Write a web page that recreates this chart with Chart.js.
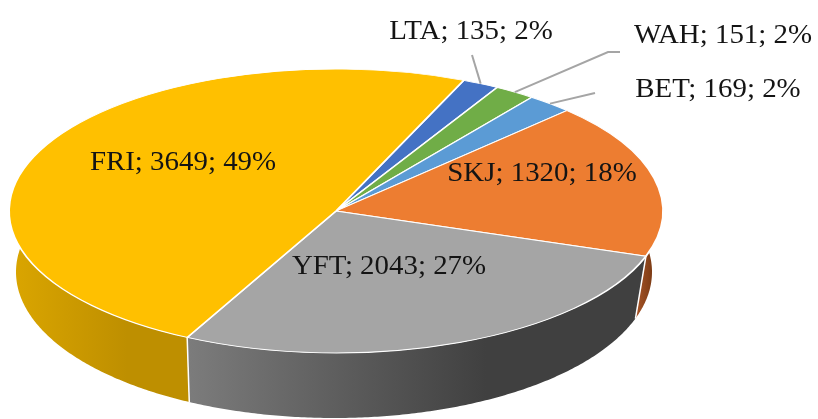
<!DOCTYPE html>
<html>
<head>
<meta charset="utf-8">
<script src="https://cdn.jsdelivr.net/npm/chart.js@4.4.0/dist/chart.umd.min.js"></script>
<style>
  html, body { margin: 0; padding: 0; background: #fff; }
  #wrap { width: 818px; height: 419px; position: relative; }
</style>
</head>
<body>
<div id="wrap"><canvas id="catchChart"></canvas></div>
<script>
// catch by species
const species = ['LTA', 'WAH', 'BET', 'SKJ', 'YFT', 'FRI'];
const catches = [135, 151, 169, 1320, 2043, 3649];

const topColors = ['#4472C4', '#70AD47', '#5B9BD5', '#ED7D31', '#A5A5A5', '#FFC000'];
// side wall shading: [left, right]
const wallColors = [
    ['#34589A', '#2A4780'],
    ['#56863A', '#45702D'],
    ['#4678A6', '#3A6690'],
    ['#B0592A', '#7A3A14'],
    ['#7C7C7C', '#404040'],
    ['#DBA600', '#BE8F00']
];

// ellipse of the top face and of the base (tilted view)
const TOP = { cx: 336, cy: 211, rx: 327, ry: 142 };
const BASE = { cx: 334, cy: 272, rx: 318, ry: 146 };

// label centres and leader lines (outside labels only)
const labelPos = [
    { x: 471, y: 30 }, { x: 723, y: 34 }, { x: 718, y: 88 },
    { x: 542, y: 172 }, { x: 389, y: 265 }, { x: 183, y: 161 }
];
const leaders = [
    [[472, 55]],
    [[620, 52], [608, 52]],
    [[595, 93]],
    null, null, null
];

const deg = Math.PI / 180;
const topPt = a => ({ x: TOP.cx + TOP.rx * Math.cos(a), y: TOP.cy + TOP.ry * Math.sin(a) });
const basePt = a => ({ x: BASE.cx + BASE.rx * Math.cos(a), y: BASE.cy + BASE.ry * Math.sin(a) });

function drawWall(ctx, a1, a2, colors) {
    const steps = Math.max(2, Math.ceil((a2 - a1) / 0.01));
    const pts = [];
    ctx.beginPath();
    for (let k = 0; k <= steps; k++) {
        const p = topPt(a1 + (a2 - a1) * k / steps);
        pts.push(p.x);
        k ? ctx.lineTo(p.x, p.y) : ctx.moveTo(p.x, p.y);
    }
    for (let k = steps; k >= 0; k--) {
        const p = basePt(a1 + (a2 - a1) * k / steps);
        pts.push(p.x);
        ctx.lineTo(p.x, p.y);
    }
    ctx.closePath();
    const x0 = Math.min(...pts), x1 = Math.max(...pts);
    const g = ctx.createLinearGradient(x0, 0, x1 + 1, 0);
    g.addColorStop(0, colors[0]);
    g.addColorStop(0.65, colors[1]);
    g.addColorStop(1, colors[1]);
    ctx.fillStyle = g;
    ctx.fill();
}

const pie3d = {
    id: 'pie3d',
    beforeDatasetsDraw(chart) {
        const ctx = chart.ctx;
        const arcs = chart.getDatasetMeta(0).data;
        const lo = -20 * deg, hi = 200 * deg;

        ctx.save();
        arcs.forEach((arc, i) => {
            for (let k = -1; k <= 1; k++) {
                const s = Math.max(arc.startAngle, lo + 2 * Math.PI * k);
                const e = Math.min(arc.endAngle, hi + 2 * Math.PI * k);
                if (e > s) drawWall(ctx, s, e, wallColors[i]);
            }
        });
        // white edges between slices on the wall
        ctx.strokeStyle = '#fff';
        ctx.lineWidth = 1.5;
        arcs.forEach(arc => {
            let a = arc.startAngle % (2 * Math.PI);
            if (a < 0) a += 2 * Math.PI;
            if (a > 0 && a < Math.PI) {
                const p = topPt(a), q = basePt(a);
                ctx.beginPath();
                ctx.moveTo(p.x, p.y);
                ctx.lineTo(q.x, q.y);
                ctx.stroke();
            }
        });
        ctx.restore();

        // squash the library's circular pie onto the top ellipse
        const a0 = arcs[0];
        const R = a0.outerRadius;
        ctx.save();
        ctx.translate(TOP.cx, TOP.cy);
        ctx.scale(TOP.rx / R, TOP.ry / R);
        ctx.translate(-a0.x, -a0.y);
    },
    afterDatasetsDraw(chart) {
        const ctx = chart.ctx;
        ctx.restore();

        const arcs = chart.getDatasetMeta(0).data;
        const total = catches.reduce((a, b) => a + b, 0);

        ctx.save();
        ctx.strokeStyle = '#A5A5A5';
        ctx.lineWidth = 2;
        arcs.forEach((arc, i) => {
            if (!leaders[i]) return;
            const p = topPt((arc.startAngle + arc.endAngle) / 2);
            ctx.beginPath();
            leaders[i].forEach((b, k) => k ? ctx.lineTo(b[0], b[1]) : ctx.moveTo(b[0], b[1]));
            ctx.lineTo(p.x, p.y);
            ctx.stroke();
        });

        ctx.fillStyle = '#141414';
        ctx.font = '27px "Liberation Serif", "Times New Roman", serif';
        ctx.textAlign = 'center';
        ctx.textBaseline = 'alphabetic';
        species.forEach((name, i) => {
            const pct = Math.round(catches[i] / total * 100);
            const text = `${name}; ${catches[i]}; ${pct}%`;
            ctx.save();
            ctx.translate(labelPos[i].x, labelPos[i].y + 9);
            ctx.scale(1.07, 1);
            ctx.fillText(text, 0, 0);
            ctx.restore();
        });
        ctx.restore();
    }
};

new Chart(document.getElementById('catchChart'), {
    type: 'pie',
    data: {
        labels: species,
        datasets: [{
            data: catches,
            backgroundColor: topColors,
            borderColor: '#FFFFFF',
            borderWidth: 1.3
        }]
    },
    options: {
        responsive: true,
        maintainAspectRatio: false,
        animation: false,
        events: [],
        rotation: 23,
        layout: { padding: 0 },
        plugins: {
            legend: { display: false },
            tooltip: { enabled: false }
        }
    },
    plugins: [pie3d]
});
</script>
</body>
</html>
